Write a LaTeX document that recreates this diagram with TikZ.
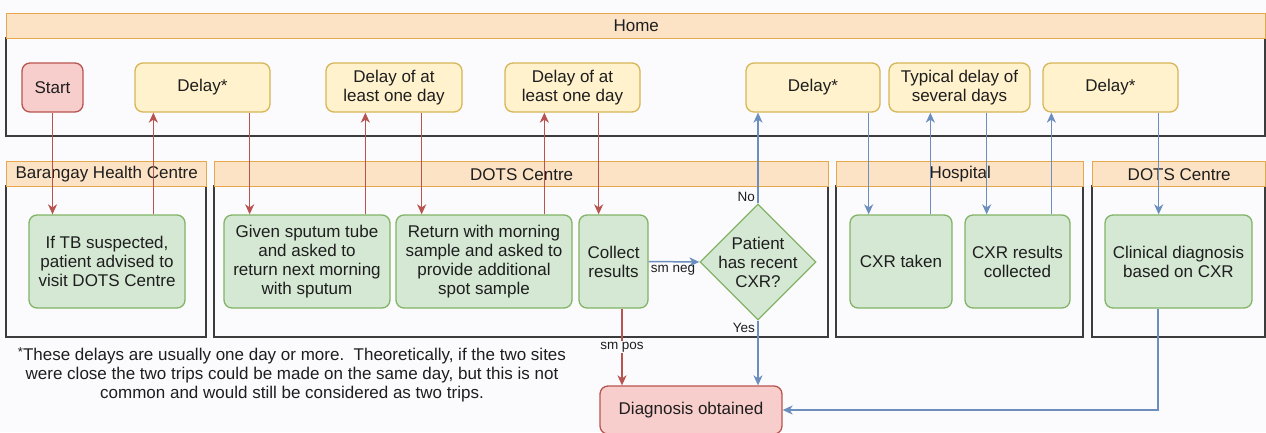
\documentclass[tikz,border=0pt]{standalone}
\usepackage{fontspec}
\setmainfont{Liberation Sans}
\usetikzlibrary{arrows.meta,shapes.geometric,calc}
\definecolor{hdrfill}{HTML}{FCE3C6}
\definecolor{hdrdraw}{HTML}{E6A84C}
\definecolor{lanedraw}{HTML}{3C3C3C}
\definecolor{ylwfill}{HTML}{FFF2CC}
\definecolor{ylwdraw}{HTML}{D6B656}
\definecolor{grnfill}{HTML}{D5E8D4}
\definecolor{grndraw}{HTML}{82B366}
\definecolor{redfill}{HTML}{F8CECC}
\definecolor{reddraw}{HTML}{B85450}
\definecolor{bluedraw}{HTML}{6C8EBF}
\definecolor{txt}{HTML}{1E1E1E}
\definecolor{bg}{HTML}{FBFBFD}
\begin{document}
\begin{tikzpicture}[x=1pt,y=-1pt,
  font=\fontsize{17}{19}\selectfont, text=txt,
  base/.style={rounded corners=8pt, line width=1.3pt, align=center, inner sep=2pt},
  delaybox/.style={base, fill=ylwfill, draw=ylwdraw, minimum width=#1, minimum height=49pt},
  stepbox/.style={base, fill=grnfill, draw=grndraw, minimum width=#1, minimum height=93pt},
  endbox/.style={base, fill=redfill, draw=reddraw},
  decision/.style={diamond, aspect=1, fill=grnfill, draw=grndraw, line width=1.3pt, minimum width=116pt, minimum height=116pt, inner sep=0pt},
  lanebody/.style={draw=lanedraw, line width=1.4pt, fill=bg},
  lanehdr/.style={draw=hdrdraw, fill=hdrfill, line width=1.4pt, anchor=north west, minimum height=25pt, inner sep=0pt},
  lbl/.style={font=\fontsize{13.5}{15}\selectfont, inner sep=1pt},
  rarrow/.style={draw=reddraw, line width=1.5pt, -{Stealth[length=10pt,width=9pt,inset=3pt]}},
  barrow/.style={draw=bluedraw, line width=1.5pt, -{Stealth[length=10pt,width=9pt,inset=3pt]}}
]
\useasboundingbox[fill=bg] (0,0) rectangle (1266,432);

% Lanes
\draw[lanebody] (6,38) rectangle (1265,136);
\node[lanehdr, minimum width=1259pt] (homeh) at (6,13) {Home};

\draw[lanebody] (6,186) rectangle (206,337);
\node[lanehdr, minimum width=200pt] (bhch) at (6,161) {Barangay Health Centre};
\draw[lanebody] (214,186) rectangle (828,337);
\node[lanehdr, minimum width=614pt] (dotsh) at (214,161) {DOTS Centre};
\draw[lanebody] (836,186) rectangle (1083,337);
\node[lanehdr, minimum width=247pt] (hosph) at (836,161) {Hospital};
\draw[lanebody] (1092,186) rectangle (1265,337);
\node[lanehdr, minimum width=173pt] (dots2h) at (1092,161) {DOTS Centre};

% Home nodes
\node[endbox, minimum width=61pt, minimum height=49pt] (start) at (52.5,87.5) {Start};
\node[delaybox=135pt] (delay1) at (202.5,87.5) {Delay*};
\node[delaybox=136pt] (delayA) at (394,87.5) {Delay of at\\least one day};
\node[delaybox=135pt] (delayB) at (572.5,87.5) {Delay of at\\least one day};
\node[delaybox=134pt] (delayC) at (813,87.5) {Delay*};
\node[delaybox=141pt] (typical) at (959.5,87.5) {Typical delay of\\several days};
\node[delaybox=135pt] (delayD) at (1110.5,87.5) {Delay*};

% Lane nodes
\node[stepbox=156pt] (iftb) at (107,261.5) {If TB suspected,\\patient advised to\\visit DOTS Centre};
\node[stepbox=166pt] (given) at (307,261.5) {Given sputum tube\\and asked to\\return next morning\\with sputum};
\node[stepbox=176pt] (ret) at (484,261.5) {Return with morning\\sample and asked to\\provide additional\\spot sample};
\node[stepbox=69pt] (collect) at (613.5,261.5) {Collect\\results};
\node[decision] (dec) at (758,262) {};
\node[align=center, inner sep=0pt] (dectext) at (dec.center) {Patient\\has recent\\CXR?};
\node[stepbox=102pt] (cxrt) at (901,261.5) {CXR taken};
\node[stepbox=105pt] (cxrr) at (1017.5,261.5) {CXR results\\collected};
\node[stepbox=147pt] (clin) at (1178.5,261.5) {Clinical diagnosis\\based on CXR};

\node[endbox, minimum width=182pt, minimum height=48pt] (diag) at (691,410) {Diagnosis obtained};

% Footnote
\node[align=center, inner sep=0pt] (note) at (292,375) {{\fontsize{13}{13}\selectfont\raisebox{4pt}{*}}These delays are usually one day or more.~~Theoretically, if the two sites\\were close the two trips could be made on the same day, but this is not\\common and would still be considered as two trips.};

% Red connectors
\draw[rarrow] (start.south) -- (start.south |- iftb.north);
\draw[rarrow] ([xshift=19pt]delay1.south west |- iftb.north) -- ([xshift=19pt]delay1.south west);
\draw[rarrow] ([xshift=-21pt]delay1.south east) -- ([xshift=-21pt]delay1.south east |- given.north);
\draw[rarrow] ([xshift=40pt]delayA.south west |- given.north) -- ([xshift=40pt]delayA.south west);
\draw[rarrow] ([xshift=-41pt]delayA.south east) -- ([xshift=-41pt]delayA.south east |- ret.north);
\draw[rarrow] ([xshift=40pt]delayB.south west |- ret.north) -- ([xshift=40pt]delayB.south west);
\draw[rarrow] ([xshift=-42pt]delayB.south east) -- ([xshift=-42pt]delayB.south east |- collect.north);
\draw[rarrow] ([xshift=8.5pt]collect.south) -- node[lbl, fill=bg, pos=0.5] (smpos) {sm pos} ([xshift=8.5pt]collect.south |- diag.north);

% Blue connectors
\draw[barrow] (collect.east) -- (dec.west);
\node[lbl, anchor=north west] (smneg) at ([xshift=1pt,yshift=-3pt]collect.east) {sm neg};
\draw[barrow] (dec.north) -- (dec.north |- delayC.south);
\node[lbl, anchor=south east] (nolbl) at ([xshift=-2pt,yshift=1pt]dec.north) {No};
\draw[barrow] (dec.south) -- (dec.south |- diag.north);
\node[lbl, anchor=north east] (yeslbl) at ([xshift=-2pt,yshift=-1pt]dec.south) {Yes};
\draw[barrow] ([xshift=-12pt]delayC.south east) -- ([xshift=-12pt]delayC.south east |- cxrt.north);
\draw[barrow] ([xshift=42pt]typical.south west |- cxrt.north) -- ([xshift=42pt]typical.south west);
\draw[barrow] ([xshift=-44pt]typical.south east) -- ([xshift=-44pt]typical.south east |- cxrr.north);
\draw[barrow] ([xshift=9pt]delayD.south west |- cxrr.north) -- ([xshift=9pt]delayD.south west);
\draw[barrow] ([xshift=-20pt]delayD.south east) -- ([xshift=-20pt]delayD.south east |- clin.north);
\draw[barrow] ([xshift=-20.5pt]clin.south) |- (diag.east);
\end{tikzpicture}
\end{document}
